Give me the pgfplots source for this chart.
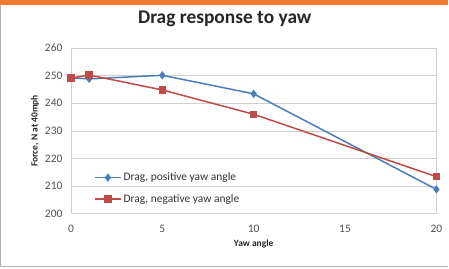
\documentclass[border=0pt]{standalone}
\usepackage{fontspec}
\setmainfont{Carlito}
\usepackage{pgfplots}
\pgfplotsset{compat=1.18}
\definecolor{xlblue}{HTML}{4A7EBB}
\definecolor{xlred}{HTML}{BE4B48}
\definecolor{xlorange}{HTML}{F07830}
\definecolor{gridg}{HTML}{D0D0D0}
\definecolor{ticktxt}{HTML}{505050}
\begin{document}
\begin{tikzpicture}[x=1bp,y=1bp]
\fill[white] (0,0) rectangle (449,269);
\fill[xlorange] (0,264) rectangle (449,269);
\draw[gray!60, line width=1.2bp] (0.6,264) -- (0.6,2.5) -- (449,2.5);
\node[font=\bfseries\fontsize{19.5}{22}\selectfont, text=black!85] at (225,250) {Drag response to yaw};
\begin{axis}[
  at={(71bp,55bp)}, anchor=south west,
  scale only axis, width=366bp, height=166bp,
  xmin=0, xmax=20, ymin=200, ymax=260,
  xtick={0,5,10,15,20}, ytick={200,210,...,260},
  ymajorgrids, grid style={gridg, line width=0.6pt},
  axis line style={gridg, line width=0.8pt},
  major tick length=0pt,
  tick label style={font=\fontsize{11.5}{13}\selectfont, text=ticktxt},
  xticklabel style={yshift=-8bp},
  yticklabel style={xshift=-5bp},
  /pgf/number format/assume math mode=true,
  xlabel={Yaw angle}, ylabel={Force, N at 40mph},
  label style={font=\bfseries\fontsize{9.5}{11}\selectfont, text=black!85},
  xlabel style={yshift=0bp},
  ylabel style={yshift=-1bp},
  legend style={at={(0.055,0.035)}, anchor=south west, draw=none, fill=none,
    font=\fontsize{11.5}{13}\selectfont, text=black!80, row sep=8bp},
  legend cell align=left,
  legend image code/.code={\draw[#1] (0bp,0bp) -- (26bp,0bp); \draw[#1, mark repeat=2, mark phase=2] plot coordinates {(0bp,0bp) (13bp,0bp) (26bp,0bp)};},
]
\addplot[xlblue, line width=1.5pt, mark=diamond*, mark size=3pt, mark options={fill=xlblue, draw=xlblue}]
  coordinates {(0,249.2) (1,248.8) (5,250.1) (10,243.4) (20,208.8)};
\addlegendentry{Drag, positive yaw angle}
\addplot[xlred, line width=1.5pt, mark=square*, mark size=3pt, mark options={fill=xlred, draw=xlred}]
  coordinates {(0,249.1) (1,250.2) (5,244.8) (10,236.0) (20,213.4)};
\addlegendentry{Drag, negative yaw angle}
\end{axis}
\end{tikzpicture}
\end{document}
